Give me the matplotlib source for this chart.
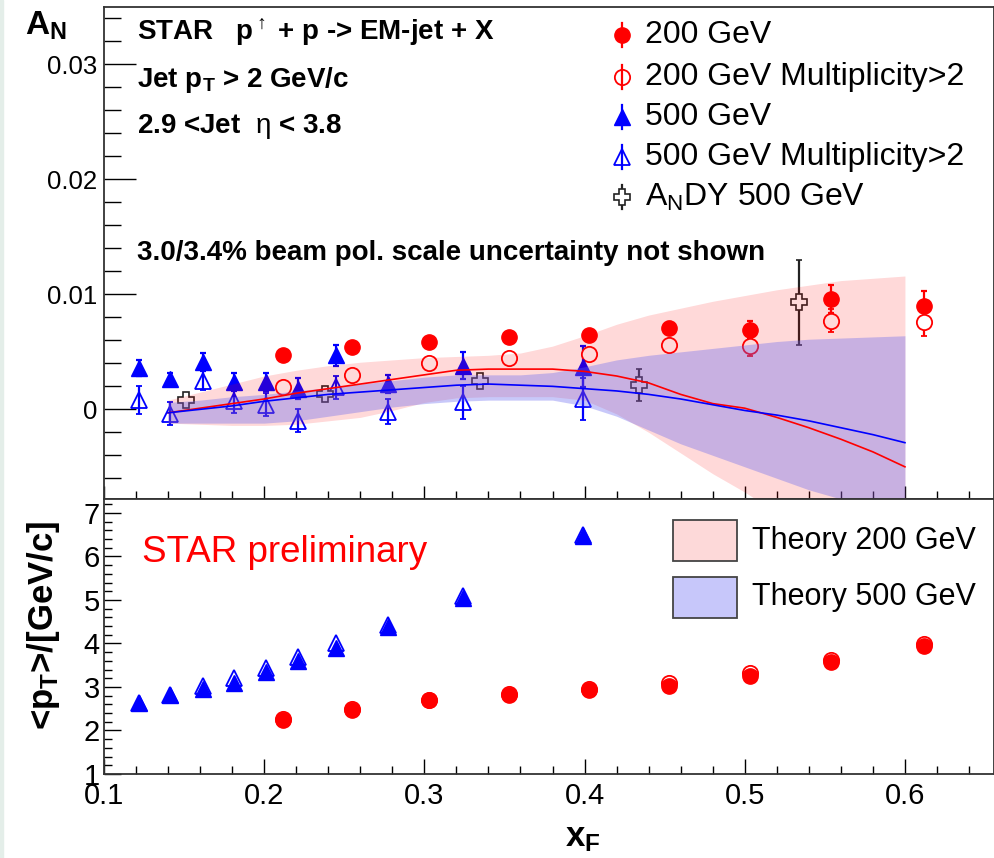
import matplotlib
matplotlib.use("Agg")
import matplotlib.pyplot as plt
from matplotlib.lines import Line2D
from matplotlib.patches import Rectangle
from matplotlib.ticker import MultipleLocator, FuncFormatter

plt.rcParams['font.family'] = ['Liberation Sans', 'DejaVu Sans']
plt.rcParams['mathtext.fontset'] = 'custom'
plt.rcParams['mathtext.rm'] = 'Liberation Sans'
plt.rcParams['mathtext.sf'] = 'Liberation Sans'
plt.rcParams['mathtext.it'] = 'Liberation Sans:italic'
plt.rcParams['mathtext.bf'] = 'Liberation Sans:bold'

# 200 GeV EM-jet A_N and <pT>
xf_200 = [0.212, 0.255, 0.303, 0.353, 0.403, 0.453, 0.503, 0.554, 0.612]
an_200 = [0.0047, 0.0054, 0.0059, 0.0063, 0.0065, 0.0071, 0.0069, 0.0096, 0.0090]
an_200_err = [0.0003, 0.0003, 0.0003, 0.0003, 0.0004, 0.0005, 0.0008, 0.0012, 0.0013]
an_200_m2 = [0.0019, 0.0030, 0.0040, 0.0045, 0.0048, 0.0056, 0.0055, 0.0077, 0.0076]
an_200_m2_err = [0.0003, 0.0003, 0.0003, 0.0003, 0.0004, 0.0005, 0.0009, 0.0010, 0.0012]
pt_200 = [2.23, 2.46, 2.69, 2.82, 2.92, 3.02, 3.26, 3.57, 3.95]
pt_200_m2 = [2.26, 2.49, 2.71, 2.85, 2.95, 3.09, 3.33, 3.62, 3.99]

# 500 GeV EM-jet A_N and <pT>
xf_500 = [0.122, 0.141, 0.162, 0.181, 0.201, 0.221, 0.245, 0.277, 0.324, 0.399]
an_500 = [0.0036, 0.0026, 0.0041, 0.0024, 0.0024, 0.0018, 0.0047, 0.0022, 0.0038, 0.0037]
an_500_err = [0.0007, 0.0006, 0.0008, 0.0008, 0.0008, 0.0009, 0.0009, 0.0008, 0.0012, 0.0018]
an_500_m2 = [0.0008, -0.0004, 0.0025, 0.0007, 0.0004, -0.0010, 0.0019, -0.0002, 0.0006, 0.0009]
an_500_m2_err = [0.0012, 0.0010, 0.0008, 0.0010, 0.0010, 0.0010, 0.0010, 0.0011, 0.0014, 0.0018]
pt_500 = [2.63, 2.82, 2.95, 3.09, 3.34, 3.59, 3.90, 4.38, 5.05, 6.46]
pt_500_m2 = [2.63, 2.82, 3.02, 3.21, 3.44, 3.70, 4.00, 4.43, 5.10, 6.49]

# AnDY 500 GeV
xf_andy = [0.151, 0.238, 0.335, 0.434, 0.534]
an_andy = [0.0008, 0.0013, 0.0025, 0.0021, 0.0093]
an_andy_err = [0.0002, 0.0003, 0.0003, 0.0014, 0.0037]

# theory curves and uncertainty bands
xf_th = [0.14, 0.16, 0.18, 0.20, 0.22, 0.24, 0.26, 0.28, 0.30, 0.32, 0.34, 0.36,
         0.38, 0.40, 0.42, 0.44, 0.46, 0.48, 0.50, 0.52, 0.54, 0.56, 0.58, 0.60]
th_200 = [-0.0003, 0.0001, 0.0005, 0.0009, 0.0014, 0.0018, 0.0022, 0.0026, 0.0030, 0.0034, 0.0035, 0.0035,
          0.0035, 0.0033, 0.0029, 0.0023, 0.0013, 0.0005, 0.0001, -0.0007, -0.0016, -0.0026, -0.0037, -0.0050]
th_200_hi = [0.0008, 0.0015, 0.0022, 0.0029, 0.0034, 0.0038, 0.0041, 0.0043, 0.0045, 0.0046, 0.0047, 0.0049,
             0.0055, 0.0064, 0.0074, 0.0082, 0.0088, 0.0094, 0.0099, 0.0104, 0.0108, 0.0112, 0.0114, 0.0116]
th_200_lo = [-0.0012, -0.0013, -0.0014, -0.0014, -0.0013, -0.0010, -0.0007, -0.0001, 0.0006, 0.0010, 0.0011, 0.0011,
             0.0011, 0.0008, -0.0004, -0.0020, -0.0038, -0.0056, -0.0072, -0.0090, -0.0108, -0.0126, -0.0144, -0.0162]
th_500 = [-0.0003, 0.0000, 0.0003, 0.0007, 0.0010, 0.0013, 0.0015, 0.0017, 0.0019, 0.0021, 0.0022, 0.0021,
          0.0020, 0.0018, 0.0016, 0.0013, 0.0009, 0.0004, -0.0001, -0.0005, -0.0010, -0.0016, -0.0022, -0.0029]
th_500_hi = [0.0006, 0.0008, 0.0011, 0.0013, 0.0016, 0.0019, 0.0022, 0.0025, 0.0028, 0.0030, 0.0030, 0.0030,
             0.0032, 0.0037, 0.0043, 0.0047, 0.0050, 0.0053, 0.0056, 0.0059, 0.0061, 0.0062, 0.0063, 0.0064]
th_500_lo = [-0.0012, -0.0012, -0.0012, -0.0012, -0.0010, -0.0006, -0.0002, 0.0002, 0.0005, 0.0007, 0.0008, 0.0008,
             0.0008, 0.0003, -0.0006, -0.0018, -0.0030, -0.0040, -0.0050, -0.0060, -0.0070, -0.0078, -0.0087, -0.0096]

W, H = 995, 858
RED = (1, 0, 0)
BLUE = (0, 0, 1)
PINK_BAND = dict(color=(1, 0, 0), alpha=0.15)
BLUE_BAND = dict(color=(100 / 255, 100 / 255, 240 / 255), alpha=0.35)


def fx(px):
    return px / W


def fy(py):
    return 1 - py / H


fig = plt.figure(figsize=(W / 100, H / 100), dpi=100)
fig.patches.append(Rectangle((0, 0), fx(3), 1, transform=fig.transFigure,
                             color='#e4eee9', zorder=0))

ax1 = fig.add_axes([fx(104), fy(499), fx(994) - fx(104), fy(7) - fy(499)])
ax2 = fig.add_axes([fx(104), fy(774), fx(994) - fx(104), fy(499) - fy(774)])

# ---- upper panel: A_N ----
eb = dict(elinewidth=1.6, capsize=2.5, capthick=1.6, linestyle='none', zorder=2)
ax1.errorbar(xf_200, an_200, yerr=an_200_err, marker='o', ms=11, color=RED, **eb)
# open circles hide the part of the error bar inside the marker
ax1.errorbar(xf_200, an_200_m2, yerr=an_200_m2_err, marker='o', ms=11, mfc='white',
             mew=1.3, color=RED, **eb)
ax1.errorbar(xf_500, an_500, yerr=an_500_err, marker='^', ms=12, color=BLUE, **eb)
ax1.errorbar(xf_500, an_500_m2, yerr=an_500_m2_err, marker='^', ms=12, mfc='none',
             mew=1.3, color=BLUE, **eb)
ax1.errorbar(xf_andy, an_andy, yerr=an_andy_err, marker='P', ms=11, mfc='white',
             mew=1.2, color='#222222', **eb)

ax1.fill_between(xf_th, th_200_lo, th_200_hi, lw=0, zorder=3, **PINK_BAND)
ax1.fill_between(xf_th, th_500_lo, th_500_hi, lw=0, zorder=3.1, **BLUE_BAND)
ax1.plot(xf_th, th_200, color=RED, lw=1.2, zorder=4)
ax1.plot(xf_th, th_500, color=BLUE, lw=1.2, zorder=4)

ax1.set_xlim(0.1, 0.6556)
ax1.set_ylim(-0.0078, 0.035)
ax1.xaxis.set_major_locator(MultipleLocator(0.1))
ax1.xaxis.set_minor_locator(MultipleLocator(0.02))
ax1.yaxis.set_major_locator(MultipleLocator(0.01))
ax1.yaxis.set_minor_locator(MultipleLocator(0.002))
ax1.yaxis.set_major_formatter(FuncFormatter(lambda v, p: '0' if abs(v) < 1e-9 else f'{v:.2f}'))
ax1.tick_params(axis='y', which='major', direction='in', length=23, width=1,
                labelsize=18.5, pad=5)
ax1.tick_params(axis='y', which='minor', direction='in', length=12, width=1)
ax1.tick_params(axis='x', which='major', direction='in', length=9.5, width=1,
                labelbottom=False)
ax1.tick_params(axis='x', which='minor', direction='in', length=5.5, width=1)

# ---- lower panel: <pT> ----
ax2.plot(xf_200, pt_200, 'o', ms=11, color=RED, zorder=2)
ax2.plot(xf_200, pt_200_m2, 'o', ms=11, mfc='none', mew=1.3, color=RED, zorder=3)
ax2.plot(xf_500, pt_500, '^', ms=12, color=BLUE, zorder=2)
ax2.plot(xf_500, pt_500_m2, '^', ms=12, mfc='none', mew=1.3, color=BLUE, zorder=3)

ax2.set_xlim(0.1, 0.6556)
ax2.set_ylim(1, 7.32)
ax2.xaxis.set_major_locator(MultipleLocator(0.1))
ax2.xaxis.set_minor_locator(MultipleLocator(0.02))
ax2.xaxis.set_major_formatter(FuncFormatter(lambda v, p: f'{v:.1f}'))
ax2.yaxis.set_major_locator(MultipleLocator(1))
ax2.yaxis.set_minor_locator(MultipleLocator(0.2))
ax2.yaxis.set_major_formatter(FuncFormatter(lambda v, p: f'{v:.0f}'))
ax2.tick_params(axis='y', which='major', direction='in', length=12, width=1,
                labelsize=21, pad=3)
ax2.tick_params(axis='y', which='minor', direction='in', length=6, width=1)
ax2.tick_params(axis='x', which='major', direction='in', length=11, width=1,
                labelsize=21, pad=6)
ax2.tick_params(axis='x', which='minor', direction='in', length=5.5, width=1)

for ax in (ax1, ax2):
    for s in ax.spines.values():
        s.set_linewidth(1.3)
        s.set_color('#333333')

# ---- labels and annotations ----
fig.text(fx(25), fy(35), r'A$_{\mathbf{N}}$', fontsize=24, fontweight='bold',
         va='baseline')
fig.text(fx(565), fy(846), r'x$_{\mathbf{F}}$', fontsize=25, fontweight='bold',
         va='baseline')
fig.text(fx(44), fy(625), r'<$\mathbf{p_T}$>/[GeV/c]', fontsize=25, fontweight='bold',
         rotation=90, ha='center', va='center')

txt = dict(fontsize=20, fontweight='bold', va='baseline')
fig.text(fx(137), fy(40), r'STAR   $\mathbf{p}^{\uparrow}$ + p -> EM-jet + X', **txt)
fig.text(fx(137), fy(87), r'Jet $\mathbf{p_T}$ > 2 GeV/c', **txt)
fig.text(fx(137), fy(133), r'2.9 <Jet  $\mathrm{\eta}$ < 3.8', **txt)
fig.text(fx(137), fy(260), '3.0/3.4% beam pol. scale uncertainty not shown', **txt)

# legend for the data sets
leg_rows = [
    (35, dict(marker='o', ms=11, color=RED), '200 GeV'),
    (77, dict(marker='o', ms=11, mfc='none', mew=1.3, color=RED), '200 GeV Multiplicity>2'),
    (117, dict(marker='^', ms=12, color=BLUE), '500 GeV'),
    (157, dict(marker='^', ms=12, mfc='none', mew=1.3, color=BLUE), '500 GeV Multiplicity>2'),
    (197, dict(marker='P', ms=11, mfc='white', mew=1.2, color='#222222'),
     r'A$_{\mathrm{N}}$DY 500 GeV'),
]
for yc, style, label in leg_rows:
    col = style['color']
    fig.add_artist(Line2D([fx(622), fx(622)], [fy(yc - 12), fy(yc + 12)],
                          color=col, lw=1.6, transform=fig.transFigure))
    fig.add_artist(Line2D([fx(622)], [fy(yc)], linestyle='none',
                          transform=fig.transFigure, **style))
    fig.text(fx(645), fy(yc), label, fontsize=23, va='center')

# legend for the theory bands
for (ytop, ybot), band, label in [((520, 561), (253, 217, 217), 'Theory 200 GeV'),
                                   ((577, 618), (199, 199, 250), 'Theory 500 GeV')]:
    fig.patches.append(Rectangle((fx(673), fy(ybot)), fx(737) - fx(673), fy(ytop) - fy(ybot),
                                 transform=fig.transFigure,
                                 facecolor=[c / 255 for c in band],
                                 edgecolor='#444444', lw=1.3))
    fig.text(fx(752), fy((ytop + ybot) / 2), label, fontsize=22, va='center')

fig.text(fx(142), fy(562), 'STAR preliminary', fontsize=26.5, color=RED, va='baseline')

fig.savefig('out.png', dpi=100)
